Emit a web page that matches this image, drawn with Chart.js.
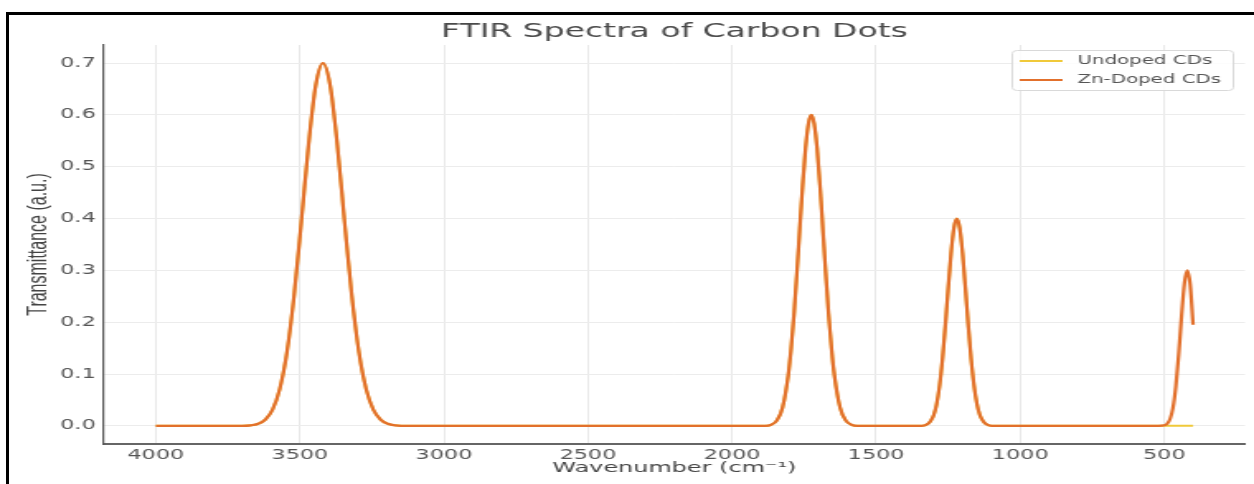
<!DOCTYPE html>
<html>
<head>
<meta charset="utf-8">
<script src="https://cdn.jsdelivr.net/npm/chart.js@4.4.1/dist/chart.umd.min.js"></script>
<style>
  html, body { margin: 0; padding: 0; background: #fff; overflow: hidden; width: 1254px; height: 484px; }
  /* the reference looks like a horizontally stretched image, so the chart is drawn narrow and scaled */
  #lienzo { position: absolute; left: 0; top: 0; width: 760px; height: 484px; transform: scaleX(1.65); transform-origin: 0 0; }
  #marco { position: absolute; left: 6px; top: 12px; width: 1400px; height: 600px; border-top: 3px solid #000; border-left: 3px solid #000; pointer-events: none; }
</style>
</head>
<body>
<div id="lienzo"><canvas id="chartFTIR" width="760" height="484"></canvas></div>
<div id="marco"></div>
<script>
const wavenumbers = [
  4000, 3800, 3700,
  3670, 3645, 3620, 3595, 3570, 3545, 3520, 3495, 3470, 3445, 3420, 3395, 3370, 3345, 3320, 3295, 3270, 3245, 3220, 3195, 3170,
  3120, 3000, 2500, 2000,
  1885, 1865, 1845, 1825, 1805, 1795, 1785, 1775, 1765, 1755, 1745, 1735, 1725, 1715, 1705, 1695, 1685, 1675, 1665, 1655, 1645, 1625, 1605, 1585, 1565,
  1500, 1400,
  1340, 1320, 1310, 1300, 1290, 1280, 1270, 1260, 1250, 1240, 1230, 1220, 1210, 1200, 1190, 1180, 1170, 1160, 1150, 1140, 1130, 1120, 1100,
  1000, 800, 600,
  520, 500, 490, 480, 470, 460, 450, 440, 430, 420, 410, 400
]

const undoped = [
  0, 0, 0,
  0.001, 0.004, 0.012, 0.031, 0.071, 0.142, 0.252, 0.394, 0.542, 0.657, 0.700, 0.657, 0.542, 0.394, 0.252, 0.142, 0.071, 0.031, 0.012, 0.004, 0.001,
  0, 0, 0, 0,
  0, 0.002, 0.010, 0.035, 0.098, 0.150, 0.216, 0.295, 0.381, 0.465, 0.536, 0.583, 0.600, 0.583, 0.536, 0.465, 0.381, 0.295, 0.216, 0.150, 0.098, 0.035, 0.010, 0.002, 0,
  0, 0,
  0, 0.004, 0.010, 0.021, 0.042, 0.077, 0.127, 0.192, 0.265, 0.333, 0.382, 0.400, 0.382, 0.333, 0.265, 0.192, 0.127, 0.077, 0.042, 0.021, 0.010, 0.004, 0,
  0, 0, 0,
  0, 0, 0, 0, 0, 0, 0, 0, 0, 0, 0, 0
]

const znDoped = [
  0, 0, 0,
  0.001, 0.004, 0.012, 0.031, 0.071, 0.142, 0.252, 0.394, 0.542, 0.657, 0.700, 0.657, 0.542, 0.394, 0.252, 0.142, 0.071, 0.031, 0.012, 0.004, 0.001,
  0, 0, 0, 0,
  0, 0.002, 0.010, 0.035, 0.098, 0.150, 0.216, 0.295, 0.381, 0.465, 0.536, 0.583, 0.600, 0.583, 0.536, 0.465, 0.381, 0.295, 0.216, 0.150, 0.098, 0.035, 0.010, 0.002, 0,
  0, 0,
  0, 0.004, 0.010, 0.021, 0.042, 0.077, 0.127, 0.192, 0.265, 0.333, 0.382, 0.400, 0.382, 0.333, 0.265, 0.192, 0.127, 0.077, 0.042, 0.021, 0.010, 0.004, 0,
  0, 0, 0,
  0, 0.001, 0.004, 0.013, 0.034, 0.075, 0.137, 0.212, 0.275, 0.300, 0.272, 0.195
]

const seriesLabels = ['Undoped CDs', 'Zn-Doped CDs']
const xTicks = [4000, 3500, 3000, 2500, 2000, 1500, 1000, 500]
const xTickLabels = ['4000', '3500', '3000', '2500', '2000', '1500', '1000', '500']
const yTicks = [0, 0.1, 0.2, 0.3, 0.4, 0.5, 0.6, 0.7]
const yTickLabels = ['0.0', '0.1', '0.2', '0.3', '0.4', '0.5', '0.6', '0.7']

const colorUndoped = '#f0c93a'
const colorZn = '#e2702c'

const toPoints = (vals) => wavenumbers.map((w, i) => ({ x: w, y: vals[i] }))

// matplotlib-style legend inside the plot, top right
const leyendaInterna = {
  id: 'leyendaInterna',
  afterDraw(chart) {
    const ctx = chart.ctx
    const x = 613.5, y = 50.5, w = 134, h = 40
    ctx.save()
    ctx.fillStyle = 'rgba(255,255,255,0.85)'
    ctx.strokeStyle = '#d9d9d9'
    ctx.lineWidth = 1
    ctx.beginPath()
    ctx.roundRect(x, y, w, h, 3)
    ctx.fill()
    ctx.stroke()
    chart.data.datasets.forEach((ds, i) => {
      const ly = 61 + i * 19
      ctx.strokeStyle = ds.borderColor
      ctx.lineWidth = 2
      ctx.beginPath()
      ctx.moveTo(618, ly)
      ctx.lineTo(644, ly)
      ctx.stroke()
      ctx.fillStyle = '#555'
      ctx.font = '12px "DejaVu Sans"'
      ctx.textBaseline = 'middle'
      ctx.fillText(ds.label, 653, ly)
    })
    ctx.restore()
  }
}

const canvas = document.getElementById('chartFTIR')
const ctx = canvas.getContext('2d')

const data = {
  datasets: [{
    label: seriesLabels[0],
    data: toPoints(undoped),
    borderColor: colorUndoped,
    backgroundColor: colorUndoped,
    borderWidth: 2,
    order: 1
  }, {
    label: seriesLabels[1],
    data: toPoints(znDoped),
    borderColor: colorZn,
    backgroundColor: colorZn,
    borderWidth: 2.2,
    order: 0
  }]
}

const configChart = {
  type: 'line',
  data: data,
  plugins: [leyendaInterna],
  options: {
    responsive: false,
    animation: false,
    devicePixelRatio: 1,
    layout: { padding: { left: 0, right: 5.5, top: 0, bottom: 0 } },
    elements: {
      point: { radius: 0 },
      line: { cubicInterpolationMode: 'monotone' }
    },
    plugins: {
      legend: { display: false },
      tooltip: { enabled: false },
      title: {
        display: true,
        fullSize: false,
        text: 'FTIR Spectra of Carbon Dots',
        color: '#4a4a4a',
        font: { family: 'DejaVu Sans', size: 20, weight: 'normal' },
        padding: { top: 20, bottom: 1 }
      }
    },
    scales: {
      x: {
        type: 'linear',
        reverse: true,
        min: 220,
        max: 4180,
        afterBuildTicks: (scale) => { scale.ticks = xTicks.map(v => ({ value: v })) },
        afterFit: (scale) => { scale.height = 40 },
        grid: { color: '#e8e8e8', lineWidth: 1, drawTicks: false },
        border: { color: '#666', width: 2 },
        ticks: {
          padding: 3,
          color: '#555',
          font: { family: 'DejaVu Sans', size: 13.5 },
          maxRotation: 0,
          callback: (value, index) => xTickLabels[index]
        },
        title: {
          display: true,
          text: 'Wavenumber (cm⁻¹)',
          color: '#444',
          font: { family: 'DejaVu Sans', size: 14.5 },
          padding: { top: 0, bottom: 7 }
        }
      },
      y: {
        type: 'linear',
        min: -0.035,
        max: 0.735,
        afterBuildTicks: (scale) => { scale.ticks = yTicks.map(v => ({ value: v })) },
        afterFit: (scale) => { scale.width = 63 },
        grid: { color: '#ececec', lineWidth: 1, drawTicks: false },
        border: { color: '#555', width: 1.2 },
        ticks: {
          padding: 5,
          color: '#555',
          font: { family: 'DejaVu Sans', size: 13.5 },
          callback: (value, index) => yTickLabels[index]
        },
        title: {
          display: true,
          text: 'Transmittance (a.u.)',
          color: '#444',
          font: { family: 'Liberation Sans', size: 16 },
          padding: { top: 14, bottom: 0 }
        }
      }
    }
  }
}

window.grafico = new Chart(ctx, configChart)
</script>
</body>
</html>
